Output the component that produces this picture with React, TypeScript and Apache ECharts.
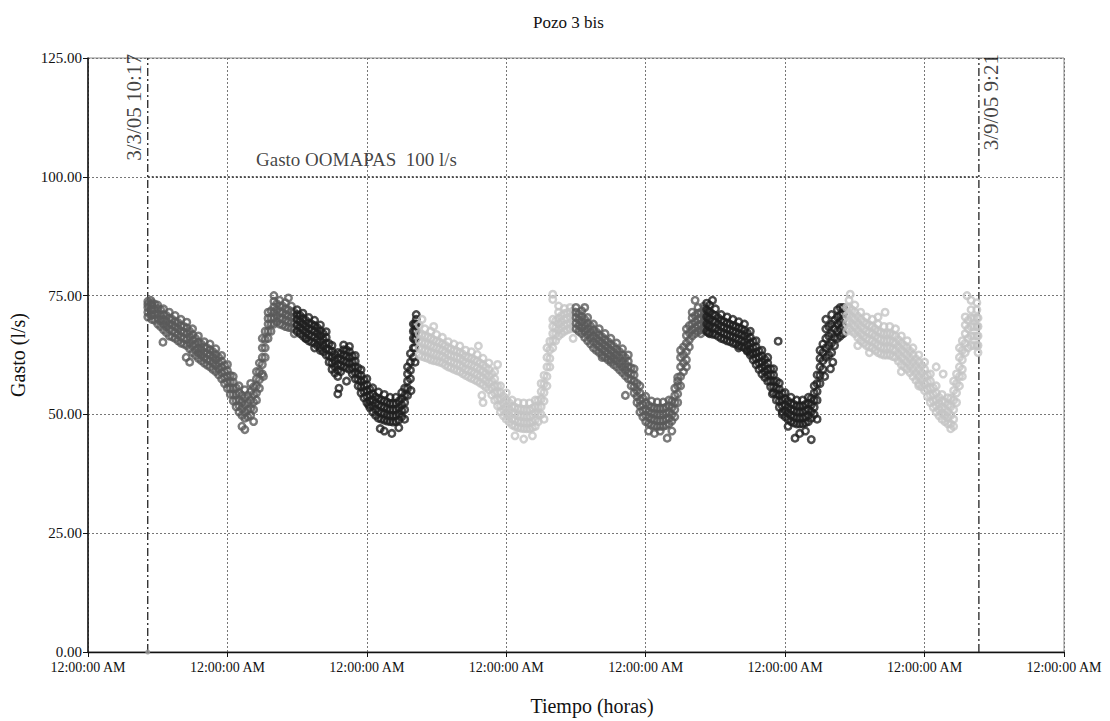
import React, { useEffect, useRef } from "react";
import * as echarts from "echarts";

const chartTitle = "Pozo 3 bis";
const xAxisName = "Tiempo (horas)";
const yAxisName = "Gasto (l/s)";
const xTickLabels = [
  "12:00:00 AM", "12:00:00 AM", "12:00:00 AM", "12:00:00 AM",
  "12:00:00 AM", "12:00:00 AM", "12:00:00 AM", "12:00:00 AM",
];
// hours counted from 3/3/05 12:00:00 AM
const startHour = 10.283; // 3/3/05 10:17
const endHour = 153.35; // 3/9/05 9:21
const startLabel = "3/3/05 10:17";
const endLabel = "3/9/05 9:21";
const oomapasLevel = 100;
const oomapasLabel = "Gasto OOMAPAS  100 l/s";
const segmentColors = ["#5a5a5a", "#1f1f1f", "#c4c4c4", "#5a5a5a", "#1f1f1f", "#c4c4c4"];

// rows: [hour, value, value, ...]
const seg1Rows = [
  [10.3, 70.5, 71.5, 72.5, 73.2, 73.8],
  [11, 70, 71, 72, 73, 73.5],
  [12, 69, 70.2, 71.2, 72.3, 73],
  [13, 67.8, 69, 70, 71, 72.2],
  [14, 66.5, 68, 69, 70.2, 71.5],
  [15, 66, 67.2, 68.5, 69.5, 70.8],
  [16, 65, 66.3, 67.5, 68.6, 70],
  [17, 64.5, 65.8, 67, 68.2, 69.4],
  [18, 63, 64.5, 65.6, 66.8, 68],
  [19, 61.8, 63, 64, 65.2, 66.5],
  [20, 60.8, 62, 63, 64.2, 65.3],
  [21, 60, 61.3, 62.5, 63.6, 64.8],
  [22, 59, 60.3, 61.5, 62.6, 63.8],
  [23, 57.5, 58.8, 60, 61.2, 62.4],
  [24, 55.5, 56.8, 58, 59.2, 60.5],
  [25, 52.8, 54.2, 55.5, 56.8, 58],
  [26, 50.5, 51.8, 53, 54.5, 56],
  [27, 49.2, 50.5, 52, 53.5, 55.2],
  [28, 49.8, 51.2, 53, 54.8, 56.5],
  [29, 53, 54.5, 56, 57.5, 59],
  [30, 58.5, 60.5, 62, 64, 66],
  [31, 66, 67.5, 69, 70.2, 71.5],
  [32, 69, 70.3, 71.5, 72.6, 73.8],
  [33, 69, 70.2, 71.5, 72.8, 74],
  [34, 68.5, 69.8, 71, 72.2, 73.5],
  [35, 68.2, 69.4, 70.5, 71.6, 72.8],
];
const seg1Half = [
  [10.8, 70.8, 72, 73.1, 74],
  [11.5, 69.8, 71, 72.1, 73.2],
  [12.5, 68.5, 69.7, 70.8, 72],
  [13.5, 67.2, 68.5, 69.6, 70.8],
  [14.5, 66.3, 67.6, 68.8, 70],
  [15.5, 65.5, 66.8, 68, 69.3],
  [16.5, 64.8, 66, 67.3, 68.5],
  [17.5, 63.8, 65, 66.3, 67.5],
  [18.5, 62.4, 63.6, 64.8, 66],
  [19.5, 61.3, 62.5, 63.6, 64.8],
  [20.5, 60.4, 61.6, 62.8, 64],
  [21.5, 59.5, 60.8, 62, 63.2],
  [22.5, 58.3, 59.6, 60.8, 62],
  [23.5, 56.5, 57.8, 59, 60.3],
  [24.5, 54.2, 55.5, 56.8, 58.2],
  [25.5, 51.6, 52.9, 54.2, 55.6],
  [26.5, 49.8, 51.2, 52.6, 54],
  [27.5, 49.5, 51, 52.5, 54],
  [28.5, 51, 52.6, 54.2, 55.8],
  [29.5, 55.5, 57.3, 59, 60.8],
  [30.5, 62, 64, 65.8, 67.5],
  [31.5, 67.5, 69, 70.3, 71.8],
  [32.5, 69.5, 70.8, 72, 73.3],
  [33.5, 68.8, 70.2, 71.4, 72.8],
  [34.5, 68.3, 69.6, 70.8, 72],
  [35.5, 68, 69.2, 70.4, 71.5],
];
const seg1Out = [[12.9, 65.2], [16.9, 62], [17.5, 61], [26.5, 47.5], [27, 46.8], [28.5, 48.5], [30.2, 58], [32, 75], [34.5, 74.5], [35.5, 67]];

const seg2Rows = [
  [36, 67.5, 68.8, 70, 71, 72],
  [37, 66.5, 67.8, 69, 70.2, 71.3],
  [38, 65.5, 66.8, 68, 69.2, 70.4],
  [39, 65, 66.3, 67.5, 68.7, 69.8],
  [40, 64, 65.3, 66.5, 67.6, 68.8],
  [41, 62.5, 63.8, 65, 66.2, 67.4],
  [42, 59.5, 60.8, 62, 63.3, 64.5],
  [43, 58, 59.3, 60.5, 61.8, 63],
  [44, 60, 61.3, 62.5, 63.6, 64.6],
  [45, 59.5, 60.8, 62, 63.2, 64.3],
  [46, 57.5, 58.8, 60, 61.2, 62.4],
  [47, 54.5, 55.8, 57, 58.2, 59.4],
  [48, 52.5, 53.8, 55, 56.2, 57.5],
  [49, 50.5, 51.8, 53, 54.3, 55.6],
  [50, 49.2, 50.6, 52, 53.3, 54.7],
  [51, 48.8, 50.2, 51.5, 52.8, 54.2],
  [52, 48.5, 49.8, 51, 52.3, 53.6],
  [53, 48.5, 49.8, 51, 52.3, 53.6],
  [54, 49.5, 50.8, 52, 53.3, 54.6],
  [55, 54, 55.5, 57, 58.5, 60],
  [56, 62, 64, 66, 67.5, 69],
  [56.5, 66, 67.5, 69, 70, 71],
];
const seg2Half = [
  [36.5, 67, 68.3, 69.5, 70.8],
  [37.5, 66, 67.3, 68.5, 69.8],
  [38.5, 65.2, 66.5, 67.8, 69],
  [39.5, 64.5, 65.8, 67, 68.2],
  [40.5, 63.2, 64.5, 65.8, 67],
  [41.5, 61, 62.3, 63.6, 64.9],
  [42.5, 58.7, 60, 61.3, 62.6],
  [43.5, 59, 60.3, 61.6, 62.8],
  [44.5, 59.8, 61, 62.3, 63.6],
  [45.5, 58.5, 59.8, 61, 62.3],
  [46.5, 56, 57.3, 58.5, 59.8],
  [47.5, 53.5, 54.8, 56, 57.3],
  [48.5, 51.5, 52.8, 54, 55.3],
  [49.5, 49.8, 51.1, 52.4, 53.7],
  [50.5, 49, 50.3, 51.7, 53],
  [51.5, 48.6, 49.9, 51.2, 52.6],
  [52.5, 48.4, 49.7, 51, 52.3],
  [53.5, 48.8, 50.1, 51.4, 52.8],
  [54.5, 51, 52.5, 54, 55.5],
  [55.5, 57.5, 59.3, 61, 62.8],
  [56.25, 64, 65.8, 67.5, 69],
];
const seg2Out = [[37.5, 66], [39, 64], [40, 63.5], [43, 54.3], [43.2, 55.5], [44.5, 57], [48.3, 52], [50.3, 47], [51, 46.5], [52.3, 46], [53.5, 47.2], [54.5, 49], [55.6, 55], [56.3, 61]];

const seg3Rows = [
  [57, 62.5, 64, 65.5, 67, 68.8],
  [58, 62, 63.5, 65, 66.5, 68],
  [59, 61.5, 63, 64.5, 66, 67.5],
  [60, 61.2, 62.6, 64, 65.4, 66.8],
  [61, 60.8, 62.2, 63.5, 64.8, 66.2],
  [62, 60, 61.3, 62.6, 64, 65.3],
  [63, 59.5, 60.8, 62.2, 63.5, 64.8],
  [64, 59, 60.4, 61.8, 63, 64.4],
  [65, 58.2, 59.5, 60.8, 62.2, 63.5],
  [66, 57.6, 59, 60.4, 61.8, 63.2],
  [67, 57, 58.4, 59.8, 61.2, 62.6],
  [68, 56.2, 57.6, 59, 60.4, 61.8],
  [69, 55.2, 56.6, 58, 59.4, 60.8],
  [70, 53, 54.5, 56, 57.5, 59],
  [71, 50.5, 51.8, 53.2, 54.6, 56],
  [72, 49, 50.3, 51.6, 53, 54.5],
  [73, 47.8, 49, 50.3, 51.6, 53],
  [74, 47.2, 48.5, 49.8, 51.2, 52.5],
  [75, 47, 48.3, 49.6, 51, 52.4],
  [76, 47, 48.3, 49.6, 51, 52.4],
  [77, 47.5, 48.8, 50.2, 51.6, 53],
  [78, 50, 51.6, 53.2, 54.8, 56.5],
  [79, 56, 58, 60, 62, 64],
  [80, 64, 65.5, 67, 68.5, 70],
  [81, 66.5, 67.8, 69, 70.2, 71.5],
  [82, 67.5, 68.8, 70, 71.2, 72.3],
  [83, 68, 69.2, 70.5, 71.5, 72.5],
];
const seg3Half = [
  [57.5, 62.2, 63.7, 65.2, 66.8],
  [58.5, 61.8, 63.3, 64.8, 66.3],
  [59.5, 61.3, 62.8, 64.2, 65.7],
  [60.5, 61, 62.4, 63.8, 65.2],
  [61.5, 60.4, 61.8, 63.1, 64.5],
  [62.5, 59.8, 61.1, 62.4, 63.8],
  [63.5, 59.2, 60.6, 62, 63.3],
  [64.5, 58.6, 60, 61.3, 62.7],
  [65.5, 57.9, 59.3, 60.6, 62],
  [66.5, 57.3, 58.7, 60.1, 61.5],
  [67.5, 56.6, 58, 59.4, 60.8],
  [68.5, 55.7, 57.1, 58.5, 59.9],
  [69.5, 54.1, 55.6, 57, 58.5],
  [70.5, 51.8, 53.2, 54.6, 56],
  [71.5, 49.7, 51, 52.4, 53.8],
  [72.5, 48.4, 49.7, 51, 52.4],
  [73.5, 47.5, 48.8, 50.1, 51.5],
  [74.5, 47.1, 48.4, 49.7, 51.1],
  [75.5, 47, 48.3, 49.6, 51],
  [76.5, 47.2, 48.5, 49.9, 51.3],
  [77.5, 48.5, 50, 51.5, 53],
  [78.5, 52.8, 54.6, 56.4, 58.2],
  [79.5, 60, 61.8, 63.6, 65.4],
  [80.5, 65.5, 67, 68.3, 69.7],
  [81.5, 67, 68.3, 69.5, 70.8],
  [82.5, 67.8, 69, 70.2, 71.4],
  [83.5, 68.2, 69.4, 70.6, 71.8],
];
const seg3Out = [[57.5, 70], [59.5, 68.5], [67.2, 64.4], [67.8, 54], [68, 52.5], [70.5, 60.5], [73.5, 45.5], [75, 44.8], [76.5, 45.5], [78.5, 49], [80, 75.3], [80, 74.2], [81, 72.8], [83.5, 66]];

const seg4Rows = [
  [84, 68, 69.2, 70.4, 71.5, 72.5],
  [85, 67, 68.2, 69.4, 70.6, 71.8],
  [86, 65.5, 66.8, 68, 69.2, 70.4],
  [87, 64, 65.3, 66.6, 67.8, 69],
  [88, 63, 64.3, 65.5, 66.7, 68],
  [89, 62, 63.3, 64.5, 65.7, 67],
  [90, 61, 62.3, 63.5, 64.7, 66],
  [91, 60, 61.3, 62.5, 63.7, 65],
  [92, 58.8, 60, 61.2, 62.5, 63.8],
  [93, 57.5, 58.8, 60, 61.2, 62.5],
  [94, 54.5, 55.8, 57, 58.3, 59.6],
  [95, 50.5, 51.8, 53, 54.5, 56],
  [96, 48.5, 49.8, 51, 52.4, 53.8],
  [97, 47.8, 49, 50.2, 51.5, 52.8],
  [98, 47.5, 48.7, 50, 51.3, 52.6],
  [99, 47.5, 48.7, 50, 51.3, 52.6],
  [100, 48, 49.2, 50.5, 51.8, 53],
  [101, 49.5, 51, 52.5, 54, 55.5],
  [102, 56, 58, 60, 62, 63.5],
  [103, 61.5, 63.2, 65, 66.6, 68],
  [104, 66.5, 67.8, 69, 70.3, 71.5],
  [105, 67.5, 68.7, 70, 71.3, 72.5],
  [106, 68, 69.2, 70.5, 71.7, 72.8],
];
const seg4Half = [
  [84.5, 67.5, 68.7, 69.9, 71.1],
  [85.5, 66.2, 67.5, 68.7, 70],
  [86.5, 64.8, 66.1, 67.3, 68.6],
  [87.5, 63.5, 64.8, 66, 67.3],
  [88.5, 62.5, 63.8, 65, 66.3],
  [89.5, 61.5, 62.8, 64, 65.3],
  [90.5, 60.5, 61.8, 63, 64.3],
  [91.5, 59.4, 60.7, 61.9, 63.2],
  [92.5, 58.1, 59.4, 60.6, 61.9],
  [93.5, 56, 57.3, 58.5, 59.8],
  [94.5, 52.5, 53.8, 55, 56.5],
  [95.5, 49.5, 50.8, 52, 53.4],
  [96.5, 48.1, 49.4, 50.6, 51.9],
  [97.5, 47.6, 48.9, 50.1, 51.4],
  [98.5, 47.5, 48.7, 50, 51.3],
  [99.5, 47.7, 49, 50.2, 51.5],
  [100.5, 48.6, 50, 51.4, 52.8],
  [101.5, 52.5, 54.3, 56, 57.8],
  [102.5, 59, 60.8, 62.5, 64.2],
  [103.5, 64.2, 65.7, 67.2, 68.7],
  [104.5, 67, 68.3, 69.5, 70.8],
  [105.5, 67.8, 69, 70.2, 71.5],
  [106.2, 68.5, 69.8, 71, 72.3],
];
const seg4Out = [[85.5, 72.5], [88.5, 62], [90, 61.5], [92.5, 54], [96.5, 46.5], [97.5, 46], [98.5, 46.5], [99.7, 45], [100.5, 46.5], [101.5, 57], [103, 60], [104.5, 74], [105.5, 67]];

const seg5Rows = [
  [106.5, 67.5, 69, 70.5, 72, 73.4],
  [107, 67, 68.5, 70, 71.5, 73],
  [108, 66.8, 68.2, 69.5, 70.8, 72.2],
  [109, 66, 67.3, 68.5, 69.8, 71],
  [110, 65.5, 66.8, 68, 69.2, 70.5],
  [111, 65, 66.3, 67.5, 68.7, 70],
  [112, 64.5, 65.8, 67, 68.2, 69.5],
  [113, 64, 65.3, 66.5, 67.7, 69],
  [114, 62.5, 63.8, 65, 66.2, 67.5],
  [115, 60.5, 61.8, 63, 64.2, 65.5],
  [116, 58.5, 59.8, 61, 62.3, 63.5],
  [117, 57, 58.3, 59.5, 60.8, 62],
  [118, 54.5, 55.8, 57, 58.3, 59.6],
  [119, 51.5, 52.8, 54, 55.3, 56.6],
  [120, 49.5, 50.8, 52, 53.3, 54.6],
  [121, 48.5, 49.8, 51, 52.3, 53.6],
  [122, 48, 49.3, 50.5, 51.8, 53],
  [123, 48, 49.3, 50.5, 51.8, 53],
  [124, 48.5, 49.8, 51, 52.3, 53.6],
  [125, 50, 51.5, 53, 54.5, 56],
  [126, 56.5, 58.2, 60, 61.8, 63.5],
  [127, 62, 64, 66, 68, 70],
  [128, 63, 65, 67, 69, 71],
  [129, 66, 67.5, 69, 70.5, 72],
  [130, 67, 68.5, 70, 71.2, 72.5],
];
const seg5Half = [
  [106.8, 67.2, 68.7, 70.2, 71.7],
  [107.5, 66.9, 68.3, 69.7, 71.1],
  [108.5, 66.4, 67.7, 69, 70.3],
  [109.5, 65.8, 67, 68.3, 69.5],
  [110.5, 65.3, 66.5, 67.8, 69],
  [111.5, 64.8, 66, 67.3, 68.5],
  [112.5, 64.3, 65.5, 66.8, 68],
  [113.5, 63.3, 64.6, 65.8, 67.1],
  [114.5, 61.5, 62.8, 64, 65.3],
  [115.5, 59.5, 60.8, 62, 63.3],
  [116.5, 57.8, 59, 60.3, 61.6],
  [117.5, 55.8, 57, 58.3, 59.6],
  [118.5, 53, 54.3, 55.6, 57],
  [119.5, 50.5, 51.8, 53, 54.4],
  [120.5, 49, 50.3, 51.5, 52.8],
  [121.5, 48.2, 49.5, 50.8, 52.1],
  [122.5, 48, 49.3, 50.5, 51.8],
  [123.5, 48.2, 49.5, 50.8, 52.1],
  [124.5, 49.2, 50.6, 52, 53.4],
  [125.5, 53, 54.8, 56.5, 58.3],
  [126.5, 59.5, 61.3, 63, 64.8],
  [127.5, 62.5, 64.5, 66.5, 68.5],
  [128.5, 64.5, 66.2, 68, 69.8],
  [129.5, 66.5, 68, 69.5, 71],
];
const seg5Out = [[107.5, 74], [112, 64], [113.5, 63.5], [114, 63], [117.8, 54.3], [118.8, 65.4], [119.5, 50], [120.5, 47.5], [121.7, 45], [122.5, 46], [123.5, 46.5], [124.5, 44.7], [125.5, 49], [126.8, 58], [127.8, 59.6], [128.2, 61], [129.5, 72.5]];

const seg6Rows = [
  [131, 68, 69.5, 71, 72.5, 74],
  [132, 67, 68.5, 70, 71.5, 73],
  [133, 65.5, 67, 68.5, 70, 71.5],
  [134, 64.5, 66, 67.5, 69, 70.5],
  [135, 64, 65.5, 67, 68.5, 70],
  [136, 63, 64.5, 66, 67.5, 69],
  [137, 62.5, 64, 65.5, 67, 68.5],
  [138, 62.5, 64, 65.5, 67, 68.5],
  [139, 62, 63.5, 65, 66.5, 68],
  [140, 60.5, 62, 63.5, 65, 66.5],
  [141, 59.5, 61, 62.5, 64, 65.5],
  [142, 58, 59.5, 61, 62.5, 64],
  [143, 56.5, 58, 59.5, 61, 62.5],
  [144, 55, 56.5, 58, 59.5, 61],
  [145, 52.5, 54, 55.5, 57, 58.5],
  [146, 50.5, 51.8, 53, 54.5, 56],
  [147, 49, 50.3, 51.5, 52.8, 54.2],
  [148, 48, 49.3, 50.5, 52, 53.5],
  [149, 49, 51, 53, 55, 57],
  [150, 56, 58, 60, 62, 64],
  [151, 63, 65, 67, 68.8, 70.5],
  [152, 64.5, 66.5, 68.5, 70.3, 72],
  [153, 64.5, 66.5, 68.5, 70.3, 72],
];
const seg6Half = [
  [130.6, 67.5, 69.2, 70.8, 72.5],
  [131.5, 67.5, 69, 70.5, 72],
  [132.5, 66.2, 67.7, 69.2, 70.7],
  [133.5, 65, 66.5, 68, 69.5],
  [134.5, 64.2, 65.7, 67.2, 68.7],
  [135.5, 63.5, 65, 66.5, 68],
  [136.5, 62.7, 64.2, 65.7, 67.2],
  [137.5, 62.5, 64, 65.5, 67],
  [138.5, 62.2, 63.7, 65.2, 66.7],
  [139.5, 61.2, 62.7, 64.2, 65.7],
  [140.5, 60, 61.5, 63, 64.5],
  [141.5, 58.8, 60.3, 61.8, 63.3],
  [142.5, 57.2, 58.7, 60.2, 61.7],
  [143.5, 55.8, 57.3, 58.8, 60.3],
  [144.5, 53.8, 55.3, 56.8, 58.3],
  [145.5, 51.5, 52.8, 54.2, 55.6],
  [146.5, 49.7, 51, 52.3, 53.6],
  [147.5, 48.5, 49.8, 51.1, 52.6],
  [148.5, 48, 49.8, 51.6, 53.4],
  [149.5, 52.5, 54.5, 56.5, 58.5],
  [150.5, 59.5, 61.5, 63.5, 65.5],
  [151.5, 64, 66, 68, 69.8],
  [152.5, 64.5, 66.5, 68.5, 70.3],
  [153.2, 64.5, 66.5, 68.5, 70.3],
];
const seg6Out = [[131.2, 75.3], [132.5, 64.5], [134.5, 63], [136, 70.5], [137.2, 71.5], [140, 59], [143, 56], [146, 60], [147.2, 58.5], [148.5, 47], [149, 47.5], [150.5, 58], [151.3, 75], [152, 74], [153, 73.5], [153.2, 63]];

const segmentRows = [seg1Rows, seg2Rows, seg3Rows, seg4Rows, seg5Rows, seg6Rows];
const segmentHalfRows = [seg1Half, seg2Half, seg3Half, seg4Half, seg5Half, seg6Half];
const segmentOutliers = [seg1Out, seg2Out, seg3Out, seg4Out, seg5Out, seg6Out];

const FONT = "'Liberation Serif', 'DejaVu Serif', serif";

function toPoints(rows: number[][], half: number[][], extra: number[][]) {
  const pts: number[][] = [];
  const add = (r: number[]) => {
    for (let i = 1; i < r.length; i++) pts.push([r[0], r[i]]);
  };
  rows.forEach(add);
  half.forEach(add);
  extra.forEach((p) => pts.push(p));
  return pts;
}

export default function App() {
  const ref = useRef<HTMLDivElement>(null);
  useEffect(() => {
    if (!ref.current) return;
    const chart = echarts.init(ref.current, undefined, { renderer: "svg" });
    const scatterSeries = segmentRows.map((rows, i) => ({
      type: "scatter",
      name: "Día " + (i + 1),
      data: toPoints(rows, segmentHalfRows[i], segmentOutliers[i]),
      symbol: "circle",
      symbolSize: 6.5,
      itemStyle: { color: "rgba(0,0,0,0)", borderColor: segmentColors[i], borderWidth: 2.5 },
      z: 3,
    }));
    const dashDot = [8, 3, 2, 3];
    const labelStyle = { fontFamily: FONT, color: "#111" };
    chart.setOption({
      animation: false,
      backgroundColor: "#ffffff",
      title: {
        text: chartTitle,
        left: 528,
        top: 9,
        textStyle: { fontFamily: FONT, fontSize: 17, fontWeight: "normal", color: "#111" },
      },
      grid: {
        left: 88, right: 46, top: 58, bottom: 67,
        show: true, borderColor: "#8a8a8a", borderWidth: 1,
      },
      xAxis: {
        type: "value",
        min: 0, max: 168, interval: 24,
        name: xAxisName,
        nameLocation: "middle",
        nameGap: 44,
        nameTextStyle: { fontFamily: FONT, fontSize: 20, color: "#111", padding: [0, 0, 0, 32] },
        axisLine: { show: true, onZero: false, lineStyle: { color: "#111", width: 1.3 } },
        axisTick: { show: true, length: 5, lineStyle: { color: "#111" } },
        axisLabel: {
          fontFamily: FONT, fontSize: 14, color: "#111", margin: 8,
          formatter: (v: number) => xTickLabels[Math.round(v / 24)],
        },
        splitLine: { show: true, lineStyle: { color: "#777", type: [2, 2], width: 1 } },
      },
      yAxis: {
        type: "value",
        min: 0, max: 125, interval: 25,
        name: yAxisName,
        nameLocation: "middle",
        nameGap: 60,
        nameTextStyle: { fontFamily: FONT, fontSize: 20, color: "#111" },
        axisLine: { show: true, lineStyle: { color: "#111", width: 1.5 } },
        axisTick: { show: true, length: 5, lineStyle: { color: "#111" } },
        axisLabel: {
          fontFamily: FONT, fontSize: 15, color: "#111", margin: 6,
          formatter: (v: number) => v.toFixed(2),
        },
        splitLine: { show: true, lineStyle: { color: "#777", type: [2, 2], width: 1 } },
      },
      series: [
        {
          type: "line",
          name: "Gasto OOMAPAS",
          data: [[startHour, oomapasLevel], [endHour, oomapasLevel]],
          symbol: "none",
          lineStyle: { color: "#222", width: 1.3, type: [2, 2] },
          z: 2,
        },
        {
          type: "line",
          name: "inicio",
          data: [[startHour, 0], [startHour, 125]],
          symbol: "none",
          lineStyle: { color: "#222", width: 1.3, type: dashDot },
          z: 2,
        },
        {
          type: "line",
          name: "fin",
          data: [[endHour, 0], [endHour, 125]],
          symbol: "none",
          lineStyle: { color: "#222", width: 1.3, type: dashDot },
          z: 2,
        },
        {
          type: "scatter",
          name: "punto inicial",
          data: [[startHour, 0]],
          symbolSize: 5,
          itemStyle: { color: "#999" },
          z: 3,
        },
        ...scatterSeries,
        {
          type: "scatter",
          name: "etiquetas",
          symbolSize: 0,
          silent: true,
          z: 5,
          data: [
            {
              value: [7.92, 114.6],
              label: { show: true, position: "inside", rotate: 90, formatter: startLabel, fontSize: 21, ...labelStyle },
            },
            {
              value: [155.43, 115.7],
              label: { show: true, position: "inside", rotate: 90, formatter: endLabel, fontSize: 21, ...labelStyle },
            },
            {
              value: [28.92, 103.6],
              label: { show: true, position: "right", distance: 0, formatter: oomapasLabel, fontSize: 19, ...labelStyle },
            },
          ],
        },
      ],
    });
    return () => chart.dispose();
  }, []);
  return (
    <div
      ref={ref}
      style={{ position: "fixed", left: 0, top: 0, width: 1110, height: 721, background: "#fff" }}
    />
  );
}
